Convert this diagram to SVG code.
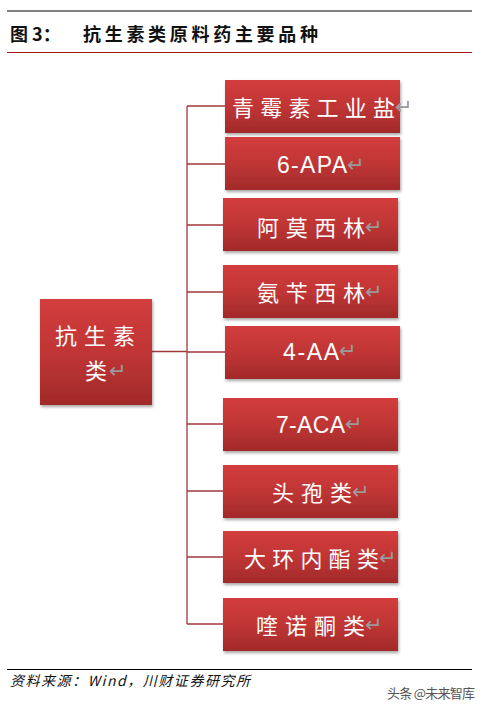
<svg xmlns="http://www.w3.org/2000/svg" width="486" height="711" viewBox="0 0 486 711">
<style>
.box{fill:url(#g);filter:url(#sh)}
.t{font-family:"Noto Sans CJK SC","Liberation Serif",serif;fill:#fff;font-size:22px}
.a{font-family:"Liberation Sans","Noto Sans",sans-serif;fill:#fff;font-size:23px}
.r{fill:#9a9a9a;font-family:"DejaVu Sans",sans-serif;font-size:21px}
.c{stroke:#a0393c;stroke-width:1.3;fill:none}
</style>
<defs>
<linearGradient id="g" x1="0" y1="0" x2="0" y2="1">
<stop offset="0" stop-color="#d33d3d"/>
<stop offset="0.5" stop-color="#c03535"/>
<stop offset="1" stop-color="#a22a2a"/>
</linearGradient>
<filter id="sh" x="-10%" y="-10%" width="125%" height="130%">
<feDropShadow dx="1" dy="2" stdDeviation="1.5" flood-color="#000" flood-opacity="0.35"/>
</filter>
</defs>
<rect width="486" height="711" fill="#fff"/>
<line x1="7" y1="11" x2="472" y2="11" stroke="#000" stroke-width="1"/>
<text x="10" y="41" font-family="Noto Sans CJK SC,sans-serif" font-weight="bold" font-size="18" fill="#111">图 3：</text>
<text x="83" y="41" font-family="Noto Sans CJK SC,sans-serif" font-weight="bold" font-size="18" fill="#111" textLength="235">抗生素类原料药主要品种</text>
<line x1="7" y1="52.5" x2="472" y2="52.5" stroke="#a01c1c" stroke-width="1.2"/>

<g id="connectors">
<path class="c" d="M152 351.5H187M187 106V624M187 106H225M187 164H225M187 225H223M187 292H223M187 352H225M187 424H223M187 491H223M187 557H223M187 624H223"/>
</g>

<g id="root">
<rect class="box" x="40" y="299" width="112" height="106"/>
<text class="t" x="55" y="344" textLength="80">抗生素</text>
<text class="t" x="85" y="379">类</text><text class="r" x="109" y="378">↵</text>
</g>
<g id="n1">
<rect class="box" x="225" y="80" width="175" height="53"/>
<text class="t" x="232" y="116" textLength="163">青霉素工业盐</text><text class="r" x="395" y="114">↵</text>
</g>
<g id="n2">
<rect class="box" x="225" y="137" width="175" height="53"/>
<text class="a" x="277" y="173" textLength="70">6-APA</text><text class="r" x="347" y="172">↵</text>
</g>
<g id="n3">
<rect class="box" x="223" y="198" width="175" height="53"/>
<text class="t" x="257" y="236" textLength="108">阿莫西林</text><text class="r" x="365" y="234">↵</text>
</g>
<g id="n4">
<rect class="box" x="223" y="265" width="175" height="53"/>
<text class="t" x="257" y="301" textLength="108">氨苄西林</text><text class="r" x="365" y="299">↵</text>
</g>
<g id="n5">
<rect class="box" x="225" y="326" width="175" height="53"/>
<text class="a" x="283" y="360" textLength="56">4-AA</text><text class="r" x="339" y="358">↵</text>
</g>
<g id="n6">
<rect class="box" x="223" y="398" width="175" height="53"/>
<text class="a" x="276" y="433" textLength="69">7-ACA</text><text class="r" x="345" y="431">↵</text>
</g>
<g id="n7">
<rect class="box" x="223" y="465" width="175" height="53"/>
<text class="t" x="272" y="501" textLength="80">头孢类</text><text class="r" x="352" y="499">↵</text>
</g>
<g id="n8">
<rect class="box" x="223" y="531" width="175" height="52"/>
<text class="t" x="244" y="567" textLength="135">大环内酯类</text><text class="r" x="379" y="565">↵</text>
</g>
<g id="n9">
<rect class="box" x="223" y="598" width="175" height="53"/>
<text class="t" x="256" y="634" textLength="109">喹诺酮类</text><text class="r" x="365" y="632">↵</text>
</g>

<line x1="7" y1="669.5" x2="472" y2="669.5" stroke="#000" stroke-width="1"/>
<text x="10" y="686" font-family="Noto Sans CJK SC,sans-serif" font-style="italic" font-size="14" fill="#111" textLength="240">资料来源：Wind，川财证券研究所</text>
<text x="387" y="698" font-family="Noto Sans CJK SC,sans-serif" font-size="13" fill="#555" textLength="88">头条 @未来智库</text>
</svg>
